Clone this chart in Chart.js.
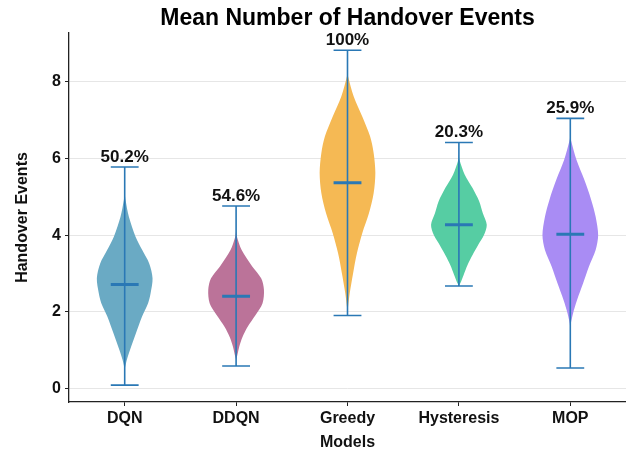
<!DOCTYPE html>
<html>
<head>
<meta charset="utf-8">
<script src="https://cdn.jsdelivr.net/npm/chart.js@4.4.1/dist/chart.umd.min.js"></script>
<style>
  html, body { margin: 0; padding: 0; background: #fff; }
  #wrap { width: 626px; height: 455px; }
</style>
</head>
<body>
<div id="wrap"><canvas id="chart"></canvas></div>
<script>
// ─── DATA ────────────────────────────────────────────────────
const models = ['DQN', 'DDQN', 'Greedy', 'Hysteresis', 'MOP'];
const minVals = [0.08, 0.58, 1.90, 2.67, 0.53];
const maxVals = [5.78, 4.76, 8.83, 6.42, 7.05];
const meanVals = [2.71, 2.40, 5.37, 4.27, 4.02];
const pctLabels = ['50.2%', '54.6%', '100%', '20.3%', '25.9%'];
const yTicks = [0, 2, 4, 6, 8];
const fillColors = ['#6aaac4', '#bb7399', '#f5b954', '#56cda3', '#a98cf4'];

// density profiles: [value, relative half-width]
const dqnDensity = [[0.5,0],[0.75,0.08],[1.0,0.19],[1.43,0.4],[1.87,0.62],[2.22,0.84],[2.48,0.93],[2.87,1.0],[3.26,0.88],[3.61,0.63],[3.96,0.39],[4.48,0.15],[4.92,0.03],[5.1,0]];
const ddqnDensity = [[0.75,0],[0.82,0.03],[1.08,0.11],[1.34,0.23],[1.6,0.41],[1.91,0.7],[2.22,0.95],[2.57,1.0],[2.87,0.9],[3.18,0.58],[3.61,0.2],[3.96,0.03],[4.1,0]];
const greedyDensity = [[2.0,0],[2.13,0.02],[2.48,0.08],[3.0,0.2],[3.53,0.34],[4.05,0.53],[4.57,0.77],[5.1,0.94],[5.62,1.0],[6.14,0.94],[6.58,0.81],[7.1,0.53],[7.63,0.22],[8.15,0.02],[8.3,0]];
const hystDensity = [[2.68,0],[2.74,0.05],[2.96,0.17],[3.22,0.31],[3.48,0.49],[3.74,0.69],[4.0,0.9],[4.27,1.0],[4.57,0.86],[4.88,0.73],[5.23,0.49],[5.58,0.21],[5.97,0.02],[6.1,0]];
const mopDensity = [[1.55,0],[1.69,0.02],[1.96,0.1],[2.3,0.24],[2.74,0.46],[3.18,0.67],[3.61,0.91],[4.0,1.0],[4.48,0.91],[4.92,0.75],[5.45,0.5],[5.97,0.22],[6.49,0.02],[6.6,0]];
const densities = [dqnDensity, ddqnDensity, greedyDensity, hystDensity, mopDensity];

const HALF = 0.25, CAP = 0.125;
const LINE = '#2a78b5';
const FONT = "'Liberation Sans', Arial, sans-serif";

// ─── DATASETS ────────────────────────────────────────────────
function violinShape(dens, pos) {
  const right = dens.map(([v, w]) => ({ x: pos + HALF * w, y: v }));
  const left = dens.slice().reverse().map(([v, w]) => ({ x: pos - HALF * w, y: v }));
  return right.concat(left);
}

const violinSets = densities.map((d, i) => ({
  type: 'line',
  data: violinShape(d, i + 1),
  backgroundColor: fillColors[i],
  borderColor: 'rgba(0,0,0,0)',
  borderWidth: 0,
  pointRadius: 0,
  tension: 0.3,
  fill: 'shape',
  order: 2
}));

const whiskerData = [];
models.forEach((m, i) => {
  const p = i + 1;
  whiskerData.push({ x: p - CAP, y: maxVals[i] }, { x: p + CAP, y: maxVals[i] }, { x: p, y: null });
  whiskerData.push({ x: p, y: maxVals[i] }, { x: p, y: minVals[i] }, { x: p, y: null });
  whiskerData.push({ x: p - CAP, y: minVals[i] }, { x: p + CAP, y: minVals[i] }, { x: p, y: null });
});
const meanData = [];
models.forEach((m, i) => {
  const p = i + 1;
  meanData.push({ x: p - CAP, y: meanVals[i] }, { x: p + CAP, y: meanVals[i] }, { x: p, y: null });
});

const lineSet = (data, w) => ({
  type: 'line', data, borderColor: LINE, borderWidth: w,
  pointRadius: 0, fill: false, spanGaps: false, tension: 0, order: 0
});

// percent labels above the max caps
const pctPlugin = {
  id: 'pct',
  afterDatasetsDraw(chart) {
    const { ctx, scales: { x, y } } = chart;
    ctx.save();
    ctx.font = `bold 17px ${FONT}`;
    ctx.fillStyle = '#111';
    ctx.textAlign = 'center';
    ctx.textBaseline = 'alphabetic';
    pctLabels.forEach((t, i) => {
      ctx.fillText(t, x.getPixelForValue(i + 1), y.getPixelForValue(maxVals[i]) - 5);
    });
    ctx.restore();
  }
};

new Chart(document.getElementById('chart'), {
  type: 'scatter',
  data: { datasets: [lineSet(meanData, 3), lineSet(whiskerData, 1.6), ...violinSets] },
  plugins: [pctPlugin],
  options: {
    responsive: true,
    maintainAspectRatio: false,
    animation: false,
    layout: { padding: 0 },
    plugins: {
      legend: { display: false },
      tooltip: { enabled: false },
      title: {
        display: true,
        text: 'Mean Number of Handover Events',
        color: '#000',
        fullSize: false,
        font: { family: FONT, size: 23, weight: 'bold' },
        padding: { top: 5, bottom: 0.4 }
      }
    },
    scales: {
      x: {
        type: 'linear',
        min: 0.5, max: 5.5,
        afterBuildTicks: s => { s.ticks = models.map((m, i) => ({ value: i + 1 })); },
        afterFit: s => { s.height = 53; },
        ticks: {
          callback: v => models[v - 1] || '',
          color: '#111',
          padding: 3,
          maxRotation: 0,
          font: { family: FONT, size: 16, weight: 'bold' }
        },
        grid: { drawOnChartArea: false, drawTicks: true, tickLength: 4, tickColor: '#222' },
        border: { display: true, color: '#222', width: 1.3 },
        title: {
          display: true, text: 'Models', color: '#111',
          font: { family: FONT, size: 16, weight: 'bold' },
          padding: { top: 0, bottom: 3 }
        }
      },
      y: {
        type: 'linear',
        min: -0.36, max: 9.28,
        afterBuildTicks: s => { s.ticks = yTicks.map(v => ({ value: v })); },
        afterFit: s => { s.width = 69; },
        ticks: {
          color: '#111',
          padding: 4,
          font: { family: FONT, size: 16, weight: 'bold' }
        },
        grid: { color: '#e6e6e6', lineWidth: 1, drawTicks: true, tickLength: 4, tickColor: '#222' },
        border: { display: true, color: '#222', width: 1.3 },
        title: {
          display: true, text: 'Handover Events', color: '#111',
          font: { family: FONT, size: 16, weight: 'bold' },
          padding: { top: 13, bottom: 0 }
        }
      }
    }
  }
});
</script>
</body>
</html>
